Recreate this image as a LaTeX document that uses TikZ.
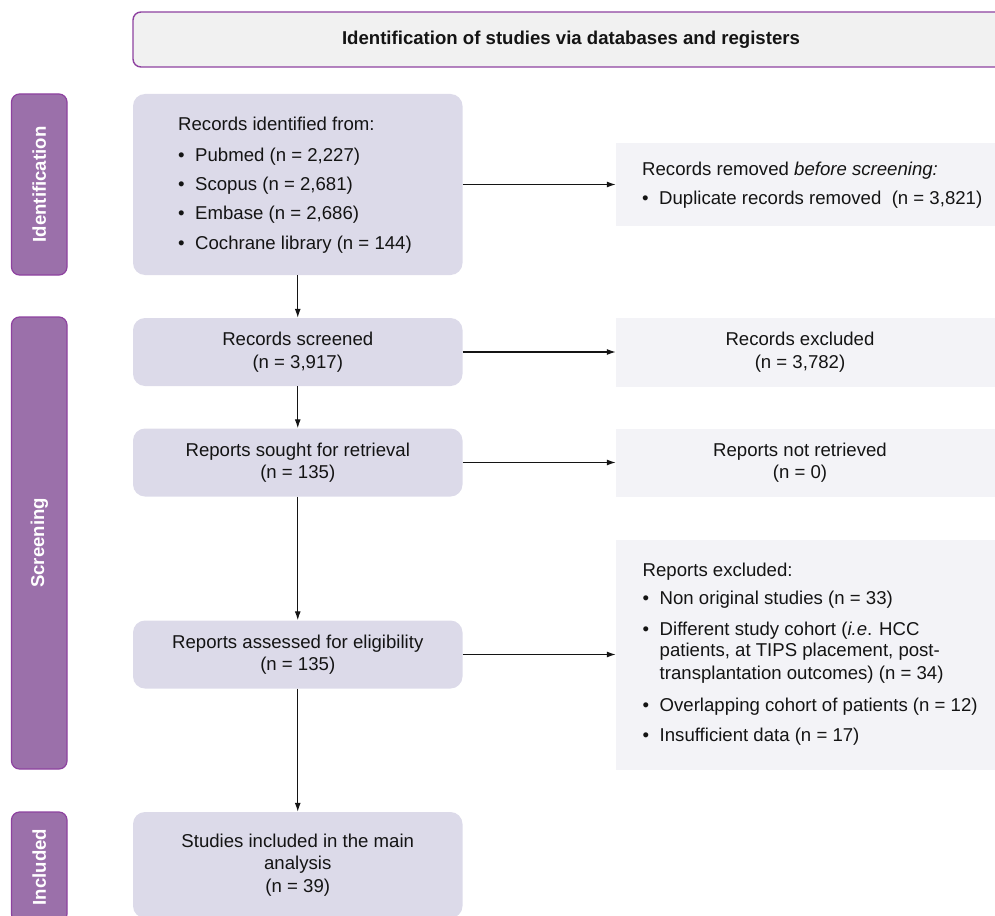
\documentclass[tikz,border=0pt]{standalone}
\usepackage{fontspec}
\setmainfont{Liberation Sans}
\usetikzlibrary{arrows.meta}
\definecolor{mainfill}{RGB}{220,218,233}
\definecolor{rightfill}{RGB}{243,243,247}
\definecolor{headfill}{RGB}{241,241,241}
\definecolor{purpleline}{RGB}{142,66,160}
\definecolor{sidefill}{RGB}{155,112,170}
\definecolor{ink}{RGB}{20,20,20}
\newcommand{\bul}{\makebox[17pt][l]{\textbullet}}
\tikzset{
  every node/.style={font=\fontsize{18.6pt}{22.5pt}\selectfont, text=ink, inner sep=0pt},
  mainbox/.style={rectangle, fill=mainfill, rounded corners=12pt, align=center, minimum width=329.5pt},
  rightbox/.style={rectangle, fill=rightfill, minimum width=394pt},
  headbox/.style={rectangle, fill=headfill, draw=purpleline, line width=1.4pt, rounded corners=8pt,
    font=\fontsize{18.6pt}{22.5pt}\selectfont\bfseries},
  sidebar/.style={rectangle, fill=sidefill, draw=purpleline, line width=1.2pt, rounded corners=8pt,
    minimum width=55.5pt},
  sidetext/.style={rotate=90, text=white, font=\fontsize{18.6pt}{22.5pt}\selectfont\bfseries},
  txt/.style={anchor=base west},
  ctxt/.style={align=center},
  flow/.style={draw=ink, line width=1.2pt, -{Latex[length=9pt,width=6pt]}}
}
\begin{document}
\begin{tikzpicture}[x=1pt,y=-1pt]
\useasboundingbox (0,0) rectangle (995,915);
\clip (0,0) rectangle (995,915);

% header
\node[headbox, minimum width=876pt, minimum height=55pt] (head) at (571,39.5)
  {Identification of studies via databases and registers};

% side bars
\node[sidebar, minimum height=181pt] (sid) at (39.25,184.5) {};
\node[sidetext] (sidt) at (sid.center) {Identification};
\node[sidebar, minimum height=452pt] (ssc) at (39.25,543) {};
\node[sidetext] (ssct) at (ssc.center) {Screening};
\node[sidebar, minimum height=110pt] (sin) at (39.25,867) {};
\node[sidetext] (sint) at (sin.center) {Included};

% main boxes
\node[mainbox, minimum height=181pt] (b1) at (297.75,184.5) {};
\node[mainbox, minimum height=68pt] (b2) at (297.75,352) {Records screened\\(n = 3,917)};
\node[mainbox, minimum height=68pt] (b3) at (297.75,462.5) {Reports sought for retrieval\\(n = 135)};
\node[mainbox, minimum height=68pt] (b4) at (297.75,654.5) {Reports assessed for eligibility\\(n = 135)};
\node[mainbox, minimum height=106pt] (b5) at (297.75,865) {Studies included in the main\\analysis\\(n = 39)};

% box 1 text
\node[txt] (b1l0) at (178,130) {Records identified from:};
\node[txt] (b1l1) at (178,161) {\bul Pubmed (n = 2,227)};
\node[txt] (b1l2) at (178,190) {\bul Scopus (n = 2,681)};
\node[txt] (b1l3) at (178,219) {\bul Embase (n = 2,686)};
\node[txt] (b1l4) at (178,249) {\bul Cochrane library (n = 144)};

% right boxes
\node[rightbox, minimum height=82.4pt] (r1) at (813,184.5) {};
\node[rightbox, minimum height=69pt] (r2) at (813,352) {};
\node[rightbox, minimum height=68pt] (r3) at (813,462.5) {};
\node[rightbox, minimum height=230pt] (r4) at (813,654.5) {};

\node[txt] (r1l0) at (642,175.7) {Records removed \textit{before screening:}};
\node[txt] (r1l1) at (642,204) {\bul Duplicate records removed\ \ (n = 3,821)};

\node[ctxt] (r2t) at (800,352) {Records excluded\\(n = 3,782)};
\node[ctxt] (r3t) at (800,462.5) {Reports not retrieved\\(n = 0)};

\node[txt] (r4l0) at (642.5,576.7) {Reports excluded:};
\node[txt] (r4l1) at (642.5,604.3) {\bul Non original studies (n = 33)};
\node[txt] (r4l2) at (642.5,635) {\bul Different study cohort (\textit{i.e}. HCC};
\node[txt] (r4l3) at (642.5,656.7) {\hspace*{17pt}patients, at TIPS placement, post-};
\node[txt] (r4l4) at (642.5,679) {\hspace*{17pt}transplantation outcomes) (n = 34)};
\node[txt] (r4l5) at (642.5,711) {\bul Overlapping cohort of patients (n = 12)};
\node[txt] (r4l6) at (642.5,741.7) {\bul Insufficient data (n = 17)};

% connectors
\draw[flow] (b1.south) -- (b2.north);
\draw[flow] (b2.south) -- (b3.north);
\draw[flow] (b3.south) -- (b4.north);
\draw[flow] (b4.south) -- (b5.north);
\draw[flow] (b1.east) -- (r1.west);
\draw[flow] (b2.east) -- (r2.west);
\draw[flow] (b3.east) -- (r3.west);
\draw[flow] (b4.east) -- (r4.west);
\end{tikzpicture}
\end{document}
